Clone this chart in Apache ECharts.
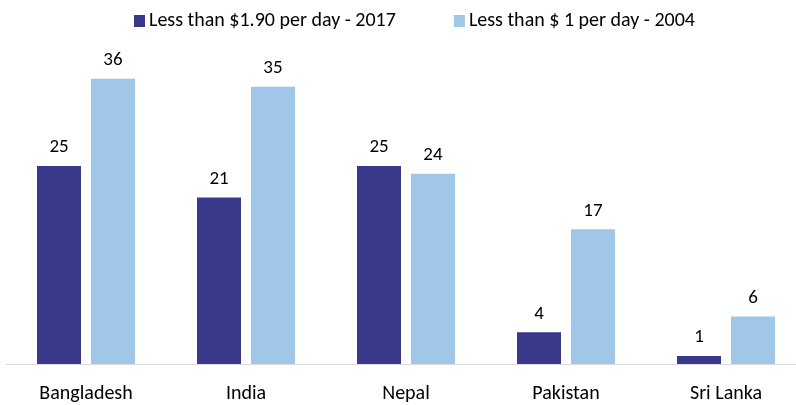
<!DOCTYPE html>
<html><head><meta charset="utf-8">
<script src="https://cdn.jsdelivr.net/npm/echarts@6/dist/echarts.min.js"></script>
<style>html,body{margin:0;padding:0;background:#fff;overflow:hidden}#c{width:812px;height:405px}</style>
</head><body><div id="c"></div>
<script>
const categories = ["Bangladesh", "India", "Nepal", "Pakistan", "Sri Lanka"];
const series2017 = [25, 21, 25, 4, 1];
const series2004 = [36, 35, 24, 17, 6];
const seriesNames = ["Less than $1.90 per day - 2017", "Less than $ 1 per day - 2004"];
const FONT = 'Carlito, Calibri, Lato, sans-serif';
const chart = echarts.init(document.getElementById('c'), null, {renderer: 'canvas'});
chart.setOption({
  animation: false,
  textStyle: {fontFamily: FONT},
  legend: {
    left: 129, top: 6,
    itemWidth: 11, itemHeight: 12, itemGap: 58,
    icon: 'rect',
    textStyle: {fontFamily: FONT, fontSize: 20, color: '#000', padding: [0,0,0,-1]},
    data: seriesNames
  },
  grid: {left: 6, right: 6, top: 47, bottom: 41, containLabel: false},
  xAxis: {
    type: 'category', data: categories,
    axisLine: {lineStyle: {color: '#d9d9d9', width: 1}},
    axisTick: {show: false},
    axisLabel: {fontFamily: FONT, fontSize: 20, color: '#000', margin: 20}
  },
  yAxis: {type: 'value', min: 0, max: 40, show: false, splitLine: {show: false}},
  series: [
    {name: seriesNames[0], type: 'bar', data: series2017, barWidth: 44, barGap: '22.7%',
     itemStyle: {color: '#3a388a'},
     label: {show: true, position: 'top', distance: 9, fontFamily: FONT, fontSize: 19, color: '#000'}},
    {name: seriesNames[1], type: 'bar', data: series2004, barWidth: 44,
     itemStyle: {color: '#a0c6e8'},
     label: {show: true, position: 'top', distance: 9, fontFamily: FONT, fontSize: 19, color: '#000'}}
  ]
});
</script></body></html>
